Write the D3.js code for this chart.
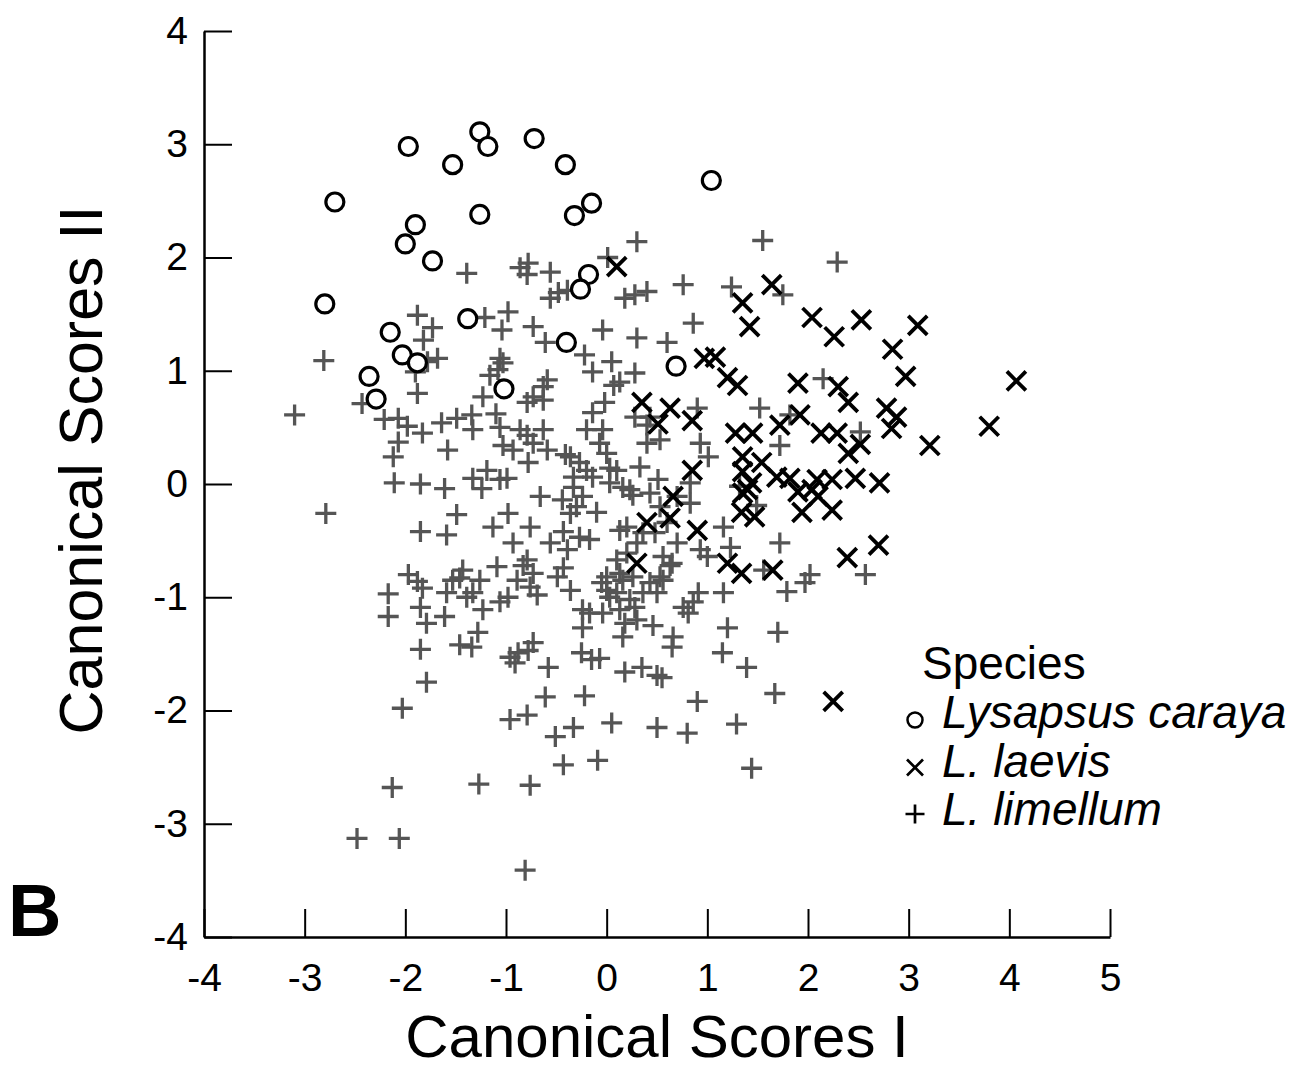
<!DOCTYPE html>
<html>
<head>
<meta charset="utf-8">
<script src="https://cdn.jsdelivr.net/npm/d3@7"></script>
<style>
  html, body { margin: 0; padding: 0; background: #fff; }
  svg { display: block; font-family: "Liberation Sans", Arial, sans-serif; }
  .axis path, .axis line { stroke: #000; }
  .axis text { fill: #000; font-size: 39px; font-family: "Liberation Sans", Arial, sans-serif; }
</style>
</head>
<body>
<svg id="chart"></svg>
<script>
// canonical scores, [score I, score II]
const carayaPts = [
  [-2.80, 1.59], [-2.70, 2.49], [-1.97, 2.98], [-1.53, 2.82], [-1.26, 3.11], [-1.18, 2.98],
  [-0.72, 3.05], [-0.41, 2.82], [-1.26, 2.38], [-0.32, 2.37], [-0.15, 2.48], [-1.90, 2.29],
  [-2.00, 2.12], [-1.73, 1.97], [-0.18, 1.85], [-0.26, 1.72], [1.04, 2.68], [-2.15, 1.34],
  [-1.38, 1.46], [-2.03, 1.14], [-1.88, 1.07], [-2.36, 0.95], [-2.29, 0.75], [-1.02, 0.84],
  [-0.40, 1.25], [0.69, 1.04]
];

const laevisPts = [
  [0.10, 1.92], [1.64, 1.76], [1.35, 1.60], [1.42, 1.39], [2.04, 1.47], [2.26, 1.30],
  [2.53, 1.45], [3.09, 1.40], [2.84, 1.19], [2.97, 0.95], [4.07, 0.91], [3.80, 0.51],
  [3.21, 0.34], [0.97, 1.11], [1.08, 1.12], [1.20, 0.94], [1.30, 0.87], [1.90, 0.89],
  [2.30, 0.86], [2.40, 0.72], [2.78, 0.67], [2.88, 0.59], [2.83, 0.49], [0.35, 0.72],
  [0.63, 0.67], [0.51, 0.53], [0.85, 0.56], [1.28, 0.45], [1.45, 0.45], [1.72, 0.52],
  [1.92, 0.61], [2.13, 0.45], [2.29, 0.45], [2.52, 0.35], [2.40, 0.27], [1.35, 0.24],
  [1.54, 0.19], [1.35, 0.11], [1.69, 0.06], [1.82, 0.05], [1.44, 0.01], [1.40, -0.05],
  [1.35, -0.08], [1.90, -0.07], [2.09, 0.04], [2.24, 0.04], [2.47, 0.05], [2.71, 0.01],
  [2.04, -0.05], [2.10, -0.11], [1.94, -0.25], [2.24, -0.23], [1.34, -0.25], [1.47, -0.29],
  [0.90, -0.41], [2.70, -0.54], [2.39, -0.65], [1.20, -0.70], [1.34, -0.79], [1.65, -0.76],
  [0.40, -0.34], [0.63, -0.30], [0.66, -0.11], [0.30, -0.70], [2.25, -1.92], [0.85, 0.12]
];

const limellumPts = [
  // outer left / bottom
  [-3.10, 0.61], [-2.81, 1.09], [-2.79, -0.26], [-2.43, 0.71], [-2.21, 0.57], [-2.07, 0.58],
  [-1.98, 0.51], [-1.83, 0.45], [-2.07, 0.37], [-2.12, 0.24], [-2.11, 0.01], [-1.85, 0.00],
  [-1.85, -0.42], [-1.97, -0.80], [-1.88, -0.86], [-1.83, -0.92], [-2.17, -0.97], [-1.85, -1.09],
  [-2.17, -1.17], [-1.79, -1.23], [-1.85, -1.46], [-2.03, -1.98], [-2.13, -2.68], [-2.48, -3.13],
  [-2.06, -3.13], [-0.81, -3.41],
  // upper left cluster
  [-1.39, 1.86], [-0.86, 1.91], [-0.78, 1.95], [-0.79, 1.85], [-0.56, 1.87], [0.01, 2.00],
  [-1.88, 1.49], [-1.73, 1.38], [-1.82, 1.27], [-1.68, 1.11], [-1.78, 1.08], [-1.90, 0.99],
  [-1.88, 0.80], [-1.21, 1.47], [-0.98, 1.52], [-1.04, 1.36], [-0.73, 1.39], [-0.61, 1.25],
  [-0.48, 1.69], [-0.56, 1.64], [-0.39, 1.71], [-0.22, 1.14], [-0.14, 0.99], [-0.04, 1.36],
  [-1.06, 1.11], [-1.03, 1.07], [-1.16, 0.96], [-1.08, 1.01], [-1.23, 0.77], [-1.10, 0.62],
  [-1.06, 0.50], [-1.33, 0.48], [-0.59, 0.92], [-0.63, 0.86], [-0.73, 0.77], [-0.79, 0.72],
  [-0.86, 0.48], [-0.63, 0.48], [-0.73, 0.36], [-0.93, 0.30], [-0.78, 0.19], [-0.36, 0.24],
  [-0.27, 0.19], [-0.20, 0.12], [-0.14, 0.06], [-0.33, 0.06], [-1.19, 0.12], [-1.06, 0.04],
  [-1.33, 0.05], [-0.14, 0.63], [-0.20, 0.48], [-0.07, 0.36], [-0.02, 0.72], [-1.64, 0.54],
  [-1.49, 0.58], [-1.34, 0.61], [-1.58, 0.30],
  // centre
  [-1.03, 0.34], [-0.79, 0.43], [-0.59, 0.30], [-0.41, 0.26], [0.03, 0.14], [-0.04, 0.48],
  [-0.63, 0.74], [-1.61, -0.04], [-1.24, -0.04], [-0.99, 0.05], [-1.49, -0.27], [-1.59, -0.45],
  [-1.13, -0.38], [-0.98, -0.26], [-0.76, -0.38], [-0.66, -0.11], [-0.93, -0.52], [-0.79, -0.67],
  [-0.56, -0.52], [-0.39, -0.58], [-0.43, -0.42], [-0.27, -0.47], [-0.17, -0.49], [-0.36, -0.26],
  [-0.30, -0.20], [-0.10, -0.25], [-0.44, -0.14], [-0.24, -0.11], [-0.33, -0.03], [0.03, 0.01],
  [0.16, -0.03], [0.26, -0.10], [0.13, -0.41], [0.20, -0.38], [0.30, -0.52], [0.36, -0.43],
  [-1.09, -0.73], [-0.89, -0.85], [-0.76, -0.91], [-0.98, -1.00], [-1.26, -0.85], [-1.43, -0.76],
  [-1.53, -0.85], [-1.39, -1.00], [-1.61, -1.17], [-1.23, -1.11], [-0.49, -0.82], [-0.36, -0.94],
  [-0.17, -1.14], [0.03, -1.00], [0.13, -1.11], [0.23, -1.02], [0.30, -1.20],
  // lower half
  [-1.59, -0.96], [-1.46, -0.83], [-1.33, -0.96], [-1.06, -1.04], [-0.83, -0.72], [-0.73, -0.79],
  [-0.69, -0.98], [-0.43, -0.74], [-1.28, -1.31], [-1.46, -1.42], [-1.34, -1.44], [-0.96, -1.53],
  [-0.91, -1.58], [-0.88, -1.49], [-0.73, -1.40], [-0.78, -1.47], [-0.58, -1.62], [-1.79, -1.75],
  [-0.96, -2.08], [-0.79, -2.04], [-0.61, -1.88], [-0.22, -1.87], [-0.51, -2.23], [-0.33, -2.15],
  [0.05, -2.11], [0.50, -2.15], [0.80, -2.20], [0.90, -1.92], [-0.43, -2.48], [-0.09, -2.44],
  [-1.27, -2.65], [-0.76, -2.66], [-0.05, -0.87], [-0.24, -1.11], [-0.04, -1.14], [-0.24, -1.27],
  [0.10, -0.96], [0.16, -0.85], [0.28, -1.09], [0.50, -0.96], [0.56, -0.85], [0.63, -0.72],
  [0.46, -1.25], [0.16, -1.35], [0.18, -1.23], [0.66, -1.35], [0.65, -1.44], [-0.25, -1.49],
  [-0.07, -1.54], [-0.15, -1.55], [0.18, -1.66], [0.35, -1.62], [0.50, -1.69], [0.55, -1.71],
  [0.76, -1.09], [0.86, -1.04], [0.91, -0.96], [0.81, -1.14], [1.16, -0.96], [1.15, -1.49],
  [1.20, -1.27],
  // upper right
  [0.30, 2.14], [1.55, 2.15], [2.29, 1.96], [0.18, 1.64], [0.28, 1.67], [0.40, 1.70],
  [0.76, 1.76], [1.24, 1.74], [1.75, 1.67], [0.30, 1.29], [0.60, 1.25], [0.86, 1.42],
  [0.05, 1.08], [0.28, 0.98], [0.13, 0.90], [0.07, 0.87], [2.15, 0.93], [0.90, 0.67],
  [1.52, 0.67], [1.82, 0.61], [0.28, 0.59], [0.43, 0.59], [0.40, 0.52], [2.52, 0.46],
  [1.72, 0.34], [0.93, 0.36], [0.53, 0.39],
  // right of centre
  [0.40, 0.36], [1.01, 0.24], [0.00, 0.27], [0.10, 0.12], [0.33, 0.15], [0.51, 0.04],
  [0.83, 0.01], [0.23, -0.05], [0.43, -0.08], [0.70, -0.11], [0.53, -0.20], [0.83, -0.17],
  [1.49, -0.19], [1.32, -0.02], [0.60, -0.34], [0.48, -0.43], [0.70, -0.52], [1.16, -0.38],
  [1.72, -0.52], [1.23, -0.56], [0.93, -0.58], [1.00, -0.64], [0.56, -0.64], [0.65, -0.70],
  [0.20, -0.61], [0.10, -0.67], [0.00, -0.82], [0.13, -0.79], [0.26, -0.82], [0.43, -0.87],
  [0.53, -0.82], [0.36, -0.96], [0.00, -0.94], [1.79, -0.95], [1.97, -0.87], [2.02, -0.80],
  [2.57, -0.80], [1.70, -1.31], [1.39, -1.62], [1.67, -1.85], [1.29, -2.12], [1.44, -2.51],
  [1.56, -0.76]
];

const xTicks = [-4, -3, -2, -1, 0, 1, 2, 3, 4, 5];
const yTicks = [-4, -3, -2, -1, 0, 1, 2, 3, 4];
const legendTitle = 'Species';
const legendNames = ['Lysapsus caraya', 'L. laevis', 'L. limellum'];
const legendShapes = ['circle', 'cross', 'plus'];

const width = 1304, height = 1072;
const svg = d3.select('#chart').attr('width', width).attr('height', height);
svg.append('rect').attr('width', width).attr('height', height).attr('fill', '#fff');

const x = d3.scaleLinear().domain([-4, 5]).range([204, 1110]);
const y = d3.scaleLinear().domain([-4, 4]).range([937, 31]);

// axes: ticks point inward, no outer ticks
svg.append('g')
  .attr('class', 'axis')
  .attr('transform', `translate(0, ${y(-4)})`)
  .call(d3.axisBottom(x).tickValues(xTicks).tickFormat(d3.format('d'))
    .tickSizeInner(-28).tickSizeOuter(0).tickPadding(26));

svg.append('g')
  .attr('class', 'axis')
  .attr('transform', `translate(${x(-4)}, 0)`)
  .call(d3.axisLeft(y).tickValues(yTicks).tickFormat(d3.format('d'))
    .tickSizeInner(-28).tickSizeOuter(0).tickPadding(16));

svg.selectAll('.axis path').attr('stroke-width', 2.5);
svg.selectAll('.axis line').attr('stroke-width', 2);
// plain hyphen instead of unicode minus, like the original figure
svg.selectAll('.axis text').text(d => String(d).replace('\u2212', '-'));

// marker paths
const plusPath = s => `M${-s},0H${s}M0,${-s}V${s}`;
const crossPath = s => `M${-s},${-s}L${s},${s}M${-s},${s}L${s},${-s}`;

const plot = svg.append('g');

plot.selectAll('.plus')
  .data(limellumPts)
  .join('path')
  .attr('class', 'plus')
  .attr('transform', d => `translate(${x(d[0])}, ${y(d[1])})`)
  .attr('d', plusPath(10.5))
  .attr('stroke', '#555')
  .attr('stroke-width', 3.3)
  .attr('fill', 'none');

plot.selectAll('.cross')
  .data(laevisPts)
  .join('path')
  .attr('class', 'cross')
  .attr('transform', d => `translate(${x(d[0])}, ${y(d[1])})`)
  .attr('d', crossPath(9.5))
  .attr('stroke', '#000')
  .attr('stroke-width', 3.8)
  .attr('fill', 'none');

plot.selectAll('.ring')
  .data(carayaPts)
  .join('circle')
  .attr('class', 'ring')
  .attr('cx', d => x(d[0]))
  .attr('cy', d => y(d[1]))
  .attr('r', 9)
  .attr('fill', '#fff')
  .attr('stroke', '#000')
  .attr('stroke-width', 3.2);

// axis titles
svg.append('text')
  .attr('x', (x(-4) + x(5)) / 2)
  .attr('y', 1057)
  .attr('text-anchor', 'middle')
  .attr('font-size', 60)
  .text('Canonical Scores I');

svg.append('text')
  .attr('transform', `translate(102, 470) rotate(-90)`)
  .attr('text-anchor', 'middle')
  .attr('font-size', 61)
  .text('Canonical Scores II');

// panel letter
svg.append('text')
  .attr('x', 8)
  .attr('y', 936)
  .attr('font-size', 74)
  .attr('font-weight', 'bold')
  .text('B');

// legend
const legend = svg.append('g').attr('transform', 'translate(915, 0)');
legend.append('text')
  .attr('x', 7)
  .attr('y', 679)
  .attr('font-size', 46)
  .text(legendTitle);

const rows = legend.selectAll('.row')
  .data(legendNames)
  .join('g')
  .attr('class', 'row')
  .attr('transform', (d, i) => `translate(0, ${728 + i * 48.5})`);

rows.each(function(d, i) {
  const g = d3.select(this);
  const shape = legendShapes[i];
  if (shape === 'circle') {
    g.append('circle').attr('cy', -8).attr('r', 7.5)
      .attr('fill', 'none').attr('stroke', '#000').attr('stroke-width', 2.5);
  } else if (shape === 'cross') {
    g.append('path').attr('transform', 'translate(0,-9)').attr('d', crossPath(8))
      .attr('stroke', '#000').attr('stroke-width', 2.7);
  } else {
    g.append('path').attr('transform', 'translate(0,-11)').attr('d', plusPath(9.5))
      .attr('stroke', '#000').attr('stroke-width', 2.7);
  }
  g.append('text')
    .attr('x', 27)
    .attr('font-size', 46)
    .attr('font-style', 'italic')
    .text(d);
});
</script>
</body>
</html>
